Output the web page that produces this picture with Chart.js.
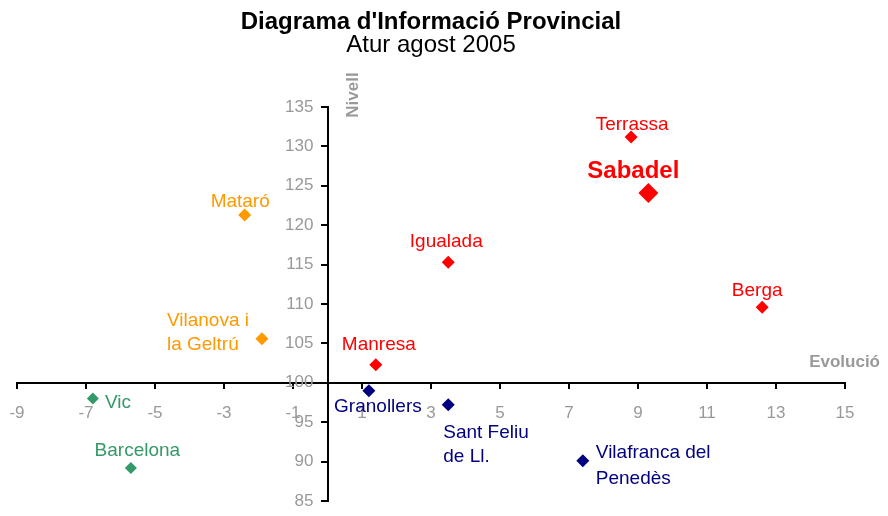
<!DOCTYPE html>
<html>
<head>
<meta charset="utf-8">
<script src="https://cdn.jsdelivr.net/npm/chart.js@4.4.0/dist/chart.umd.min.js"></script>
<style>
  html, body { margin: 0; padding: 0; background: #fff; }
  #wrap { width: 888px; height: 516px; }
</style>
</head>
<body>
<div id="wrap"><canvas id="chart"></canvas></div>
<script>
// dades llegides del diagrama
const cities = ['Terrassa', 'Sabadel', 'Igualada', 'Berga', 'Manresa', 'Mataró',
  'Vilanova i la Geltrú', 'Vic', 'Barcelona', 'Granollers', 'Sant Feliu de Ll.', 'Vilafranca del Penedès'];
const evolucio = [8.8, 9.3, 3.5, 12.6, 1.4, -2.4, -1.9, -6.8, -5.7, 1.2, 3.5, 7.4];
const nivell = [131.2, 124.1, 115.3, 109.6, 102.3, 121.3, 105.6, 98.0, 89.2, 99.0, 97.2, 90.1];
const grup = ['vermell', 'vermell', 'vermell', 'vermell', 'vermell', 'taronja',
  'taronja', 'verd', 'verd', 'blau', 'blau', 'blau'];
const etiquetes = [['Terrassa'], ['Sabadel'], ['Igualada'], ['Berga'], ['Manresa'], ['Mataró'],
  ['Vilanova i', 'la Geltrú'], ['Vic'], ['Barcelona'], ['Granollers'], ['Sant Feliu', 'de Ll.'],
  ['Vilafranca del', 'Penedès']];
const xTicks = [-9, -7, -5, -3, -1, 1, 3, 5, 7, 9, 11, 13, 15];
const yTicks = [85, 90, 95, 100, 105, 110, 115, 120, 125, 130, 135];

const colors = { vermell: '#FF0000', taronja: '#FF9900', verd: '#339966', blau: '#000080' };
const FONT = "'Liberation Sans', Arial, sans-serif";

// posicio de cada etiqueta respecte al punt (align, dx, dy, interlineat)
const labelPos = [
  ['center', 1, -12.5, 24], ['center', -15, -22, 24], ['center', -2, -20, 24], ['center', -5, -16, 24],
  ['center', 3, -20, 24], ['center', -4.5, -13, 24], ['left', -95, -17.5, 23.5], ['left', 12, 4, 24],
  ['center', 6.5, -17, 24], ['center', 9, 16, 24], ['left', -5, 28, 24], ['left', 13, -8, 26]
];

const groups = ['vermell', 'taronja', 'verd', 'blau'];
const datasets = groups.map(g => {
  const idx = cities.map((c, i) => i).filter(i => grup[i] === g);
  return {
    label: g,
    data: idx.map(i => ({ x: evolucio[i], y: nivell[i], i: i })),
    pointStyle: 'rectRot',
    pointRadius: idx.map(i => cities[i] === 'Sabadel' ? 10 : (g === 'verd' ? 6 : 6.5)),
    backgroundColor: colors[g],
    borderColor: colors[g],
    borderWidth: 0
  };
});

const pointLabels = {
  id: 'pointLabels',
  afterDatasetsDraw(chart) {
    const ctx = chart.ctx;
    ctx.save();
    ctx.textBaseline = 'middle';
    chart.data.datasets.forEach((ds, d) => {
      const meta = chart.getDatasetMeta(d);
      ds.data.forEach((p, k) => {
        const el = meta.data[k];
        const i = p.i;
        const [align, dx, dy, lh] = labelPos[i];
        const bold = cities[i] === 'Sabadel';
        ctx.font = (bold ? 'bold 24px ' : '19px ') + FONT;
        ctx.fillStyle = colors[grup[i]];
        ctx.textAlign = align;
        etiquetes[i].forEach((line, n) => {
          ctx.fillText(line, el.x + dx, el.y + dy + n * lh);
        });
      });
    });
    // titols dels eixos
    const area = chart.chartArea;
    const x0 = chart.scales.x.getPixelForValue(0);
    const y0 = chart.scales.y.getPixelForValue(100);
    ctx.fillStyle = '#999999';
    ctx.font = 'bold 17px ' + FONT;
    ctx.textAlign = 'right';
    ctx.fillText('Evolució', area.right + 35, y0 - 20);
    ctx.translate(x0 + 26, area.top - 12);
    ctx.rotate(-Math.PI / 2);
    ctx.textAlign = 'center';
    ctx.fillText('Nivell', 0, 0);
    ctx.restore();
  }
};

new Chart(document.getElementById('chart'), {
  type: 'scatter',
  data: { datasets: datasets },
  plugins: [pointLabels],
  options: {
    responsive: true,
    maintainAspectRatio: false,
    animation: false,
    layout: { padding: { left: 17, right: 43, top: 0, bottom: 15 } },
    plugins: {
      legend: { display: false },
      tooltip: { enabled: false },
      title: {
        display: true,
        text: "Diagrama d'Informació Provincial",
        color: '#000',
        font: { family: FONT, size: 24, weight: 'bold', lineHeight: 0.9 },
        padding: { top: 12, bottom: 0 }
      },
      subtitle: {
        display: true,
        text: 'Atur agost 2005',
        color: '#000',
        font: { family: FONT, size: 24, weight: 'normal', lineHeight: 1 },
        padding: { top: 0, bottom: 49.4 }
      }
    },
    scales: {
      x: {
        type: 'linear',
        position: { y: 100 },
        min: -9,
        max: 15,
        afterBuildTicks: axis => { axis.ticks = xTicks.map(v => ({ value: v })); },
        // el padding de les etiquetes no ha d'empènyer l'àrea del gràfic
        afterFit: axis => { axis.paddingLeft = 5; axis.paddingRight = 5; },
        grid: { drawOnChartArea: false, drawTicks: true, tickLength: 5, color: '#000', lineWidth: 2 },
        border: { display: true, color: '#000', width: 2 },
        ticks: { color: '#999999', font: { family: FONT, size: 17 }, padding: 15, maxRotation: 0, autoSkip: false }
      },
      y: {
        type: 'linear',
        position: { x: 0 },
        min: 85,
        max: 135,
        afterBuildTicks: axis => { axis.ticks = yTicks.map(v => ({ value: v })); },
        grid: { drawOnChartArea: false, drawTicks: true, tickLength: 6, color: '#000', lineWidth: 2 },
        border: { display: true, color: '#000', width: 2 },
        ticks: {
          color: '#999999', font: { family: FONT, size: 17 }, autoSkip: false,
          // l'eix centrat posa les etiquetes tocant la línia: les separem amb espais
          callback: v => v + '   '
        }
      }
    }
  }
});
</script>
</body>
</html>
